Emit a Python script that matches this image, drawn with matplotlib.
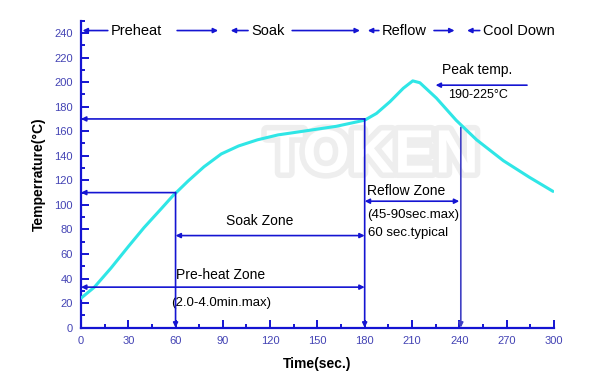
import matplotlib.pyplot as plt
import matplotlib.patheffects as pe
from matplotlib.ticker import MultipleLocator

plt.rcParams['font.family'] = ['Liberation Sans', 'DejaVu Sans']

# reflow profile
time_s = [0, 8.5, 19, 30, 40, 51, 58, 68, 78, 89, 100, 112, 125, 141, 162, 180,
          187.5, 196, 204.5, 210.5, 215, 225.5, 238, 251, 268, 284.5, 299.5]
temp_c = [24, 33, 48.5, 66, 81.5, 97, 107, 119.5, 131, 141.5, 148, 153, 157, 160, 164, 169,
          174.5, 184, 195, 201, 199.5, 187, 169, 153, 136, 122.5, 111]

# phases across the top: (name, text x, left end, right end, text end)
phases = [("Preheat", 19, 1, 87, 60),
          ("Soak", 108, 95, 177, 133),
          ("Reflow", 191, 182, 237, 223),
          ("Cool Down", 255, 245, None, None)]

blue = '#1414d2'
tick_col = '#4343b4'

fig = plt.figure(figsize=(6, 3.91), dpi=100)
ax = fig.add_axes([0.135, 0.162, 0.788, 0.785])

# watermark
ax.text(185, 139, "TOKEN", fontsize=44, fontweight='bold', color='white',
        ha='center', va='center', zorder=0,
        path_effects=[pe.withStroke(linewidth=8, foreground='#eeeeee')])

ax.plot(time_s, temp_c, color='#2fe6e6', lw=2.2, zorder=3,
        solid_joinstyle='round', solid_capstyle='round')

ax.set_xlim(0, 300)
ax.set_ylim(0, 250)
for s in ['top', 'right']:
    ax.spines[s].set_visible(False)
for s in ['left', 'bottom']:
    ax.spines[s].set_color(blue)
    ax.spines[s].set_linewidth(1.6)

ax.set_xticks(range(0, 301, 30))
ax.set_yticks(range(0, 241, 20))
ax.xaxis.set_minor_locator(MultipleLocator(15))
ax.yaxis.set_minor_locator(MultipleLocator(10))
ax.tick_params(which='both', direction='in', color=blue, width=1.4, labelcolor=tick_col, labelsize=8)
ax.tick_params(which='major', length=6, pad=6)
ax.tick_params(which='minor', length=3)

ax.set_xlabel("Time(sec.)", fontsize=10, fontweight='bold', labelpad=8)
ax.set_ylabel("Temperrature(°C)", fontsize=10, fontweight='bold', labelpad=6)


def arrow(x0, y0, x1, y1, style='-|>', col=blue, lw=1.2):
    ax.annotate('', xy=(x1, y1), xytext=(x0, y0),
                arrowprops=dict(arrowstyle=style, color=col, lw=lw, shrinkA=0, shrinkB=0,
                                mutation_scale=7),
                annotation_clip=False, zorder=4)


# phase header
yh = 242
for name, tx, left, right, tend in phases:
    ax.text(tx, yh, name, fontsize=10.5, va='center', ha='left', clip_on=False)
    arrow(tx - 2, yh, left, yh)
    if right is not None:
        arrow(tend + 1, yh, right, yh)

# guide lines
arrow(180, 170, 0, 170)
arrow(180, 170, 180, 0)
arrow(60, 110, 0, 110)
arrow(60, 110, 60, 0)
arrow(241, 163, 241, 0, col='#4040c4')
arrow(60, 75, 180, 75, style='<|-|>')
arrow(0, 33, 180, 33, style='<|-|>')
arrow(180, 103, 240, 103, style='<|-|>')
arrow(283, 197.5, 225, 197.5)

ax.text(92, 87, "Soak Zone", fontsize=10, va='center')
ax.text(60.5, 43, "Pre-heat Zone", fontsize=10, va='center')
ax.text(57.5, 20, "(2.0-4.0min.max)", fontsize=9.5, va='center')
ax.text(181.5, 111, "Reflow Zone", fontsize=10, va='center')
ax.text(181.5, 92, "(45-90sec.max)", fontsize=9.5, va='center')
ax.text(182, 77, "60 sec.typical", fontsize=9.5, va='center')
ax.text(229, 210, "Peak temp.", fontsize=10, va='center')
ax.text(233, 189.5, "190-225°C", fontsize=9, va='center')

fig.savefig("out.png", dpi=100)
